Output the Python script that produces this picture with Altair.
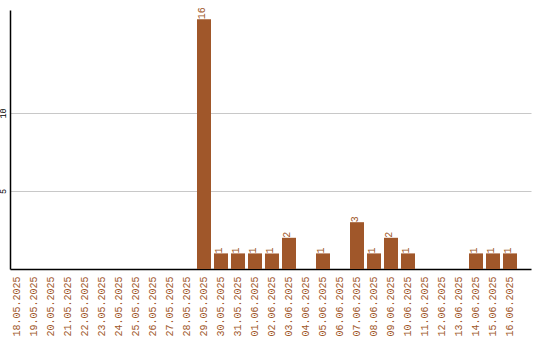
import altair as alt
import pandas as pd

dates = ["18.05.2025", "19.05.2025", "20.05.2025", "21.05.2025", "22.05.2025",
         "23.05.2025", "24.05.2025", "25.05.2025", "26.05.2025", "27.05.2025",
         "28.05.2025", "29.05.2025", "30.05.2025", "31.05.2025", "01.06.2025",
         "02.06.2025", "03.06.2025", "04.06.2025", "05.06.2025", "06.06.2025",
         "07.06.2025", "08.06.2025", "09.06.2025", "10.06.2025", "11.06.2025",
         "12.06.2025", "13.06.2025", "14.06.2025", "15.06.2025", "16.06.2025"]
counts = [0, 0, 0, 0, 0, 0, 0, 0, 0, 0,
          0, 16, 1, 1, 1, 1, 2, 0, 1, 0,
          3, 1, 2, 1, 0, 0, 0, 1, 1, 1]
y_ticks = [5, 10]

df = pd.DataFrame({"date": dates, "count": counts})
color = "#a0572a"
font = "Liberation Mono"

x = alt.X("date:N", sort=dates, title=None,
          scale=alt.Scale(paddingInner=3/17, paddingOuter=0.412, align=0),
          axis=alt.Axis(labelAngle=270, labelAlign="right", labelBaseline="middle",
                        labelColor=color, labelFont=font, labelFontSize=10,
                        labelPadding=7, ticks=False, domainColor="black",
                        domainWidth=1.5, grid=False, labelOverlap=False))
y = alt.Y("count:Q", title=None,
          scale=alt.Scale(domain=[0, 16.6], nice=False),
          axis=alt.Axis(values=y_ticks, labelAngle=270, labelAlign="center",
                        labelBaseline="bottom", labelPadding=3, labelFont=font,
                        labelFontSize=8.5, labelColor="black", ticks=False,
                        domainColor="black", domainWidth=1.5,
                        gridColor="#c8c8c8", gridWidth=1))

bars = alt.Chart(df).mark_bar(color=color).encode(x=x, y=y)
labels = alt.Chart(df).transform_filter("datum.count > 0").mark_text(
    angle=270, align="left", baseline="middle", dy=-2,
    font=font, fontSize=10, color=color
).encode(x=alt.X("date:N", sort=dates), y="count:Q", text="count:Q")

chart = (bars + labels).properties(
    width=521, height=259,
    autosize=alt.AutoSizeParams(type="none"),
    padding={"left": 10, "top": 10, "right": 9, "bottom": 71},
    background="white"
).configure_view(stroke=None)

chart.save("out.html", embed_options={"renderer": "svg", "actions": False})
